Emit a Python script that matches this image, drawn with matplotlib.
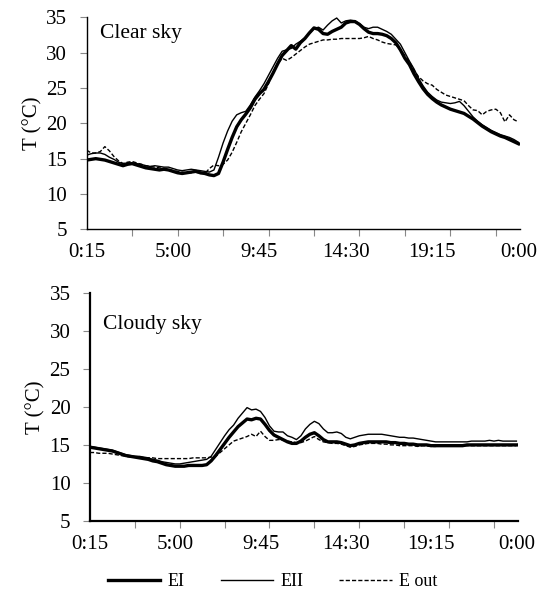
import numpy as np
import matplotlib
matplotlib.use('Agg')
import matplotlib.pyplot as plt

plt.rcParams['font.family'] = ['Liberation Serif', 'DejaVu Serif']

# tick labels (15-minute steps, one label every 19 steps)
tick_labels = ['0:15', '5:00', '9:45', '14:30', '19:15', '0:00']

# clear sky
clear_EI = [14.8, 14.9, 15.0, 14.9, 14.8, 14.6, 14.4, 14.2, 14.0, 14.2,
            14.3, 14.1, 13.9, 13.7, 13.6, 13.5, 13.4, 13.5, 13.4, 13.2,
            13.0, 12.9, 13.0, 13.1, 13.2, 13.0, 12.9, 12.7, 12.6, 12.9,
            14.5, 16.3, 18.0, 19.5, 20.5, 21.3, 22.2, 23.4, 24.2, 24.8,
            25.9, 27.1, 28.4, 29.6, 30.3, 31.0, 30.5, 31.4, 32.0, 32.8,
            33.5, 33.3, 32.7, 32.6, 33.0, 33.3, 33.6, 34.2, 34.4, 34.4,
            34.0, 33.4, 32.9, 32.7, 32.7, 32.6, 32.4, 32.0, 31.4, 30.4,
            29.2, 28.3, 27.0, 25.9, 24.9, 24.1, 23.5, 23.0, 22.6, 22.3,
            22.0, 21.8, 21.6, 21.4, 21.0, 20.6, 20.1, 19.6, 19.2, 18.8,
            18.5, 18.2, 18.0, 17.7, 17.4, 17.1]
clear_EII = [15.5, 15.7, 15.8, 15.8, 15.6, 15.2, 14.9, 14.5, 14.3, 14.4,
             14.4, 14.3, 14.2, 14.0, 13.9, 14.0, 13.9, 13.8, 13.8, 13.6,
             13.4, 13.3, 13.4, 13.5, 13.4, 13.3, 13.2, 13.1, 13.4, 15.2,
             17.2, 18.9, 20.3, 21.2, 21.5, 21.7, 22.6, 23.7, 24.6, 25.6,
             26.8, 28.0, 29.2, 30.2, 30.4, 30.6, 31.2, 31.6, 32.1, 32.7,
             33.4, 33.6, 33.2, 33.9, 34.5, 34.9, 34.2, 34.5, 34.6, 34.5,
             34.1, 33.6, 33.4, 33.6, 33.6, 33.3, 33.0, 32.6, 31.9, 31.2,
             30.0, 28.8, 27.7, 26.4, 25.3, 24.4, 23.8, 23.3, 23.0, 22.9,
             22.8, 22.9, 23.1, 22.5, 21.7, 20.9, 20.3, 19.8, 19.4, 19.0,
             18.7, 18.4, 18.2, 18.0, 17.7, 17.3]
clear_Eout = [16.2, 15.8, 15.8, 16.0, 16.7, 16.1, 15.3, 14.7, 14.3, 14.5,
              14.6, 14.4, 14.2, 14.0, 13.9, 13.8, 13.7, 13.6, 13.5, 13.3,
              13.2, 13.1, 13.0, 13.0, 13.1, 12.9, 12.9, 13.6, 14.1, 14.0,
              14.2, 14.8, 15.9, 17.3, 18.8, 20.0, 21.2, 22.5, 23.4, 24.2,
              25.6, 27.2, 28.4, 29.2, 28.9, 29.3, 29.8, 30.3, 30.8, 31.2,
              31.4, 31.6, 31.8, 31.8, 31.9, 31.9, 32.0, 32.0, 32.0, 32.0,
              32.0, 32.1, 32.3, 32.0, 31.8, 31.5, 31.3, 31.2, 31.1, 30.4,
              29.6, 28.7, 27.5, 26.6, 26.0, 25.6, 25.4, 24.8, 24.4, 24.0,
              23.8, 23.6, 23.4, 23.2, 22.5, 21.9, 21.8, 21.2, 21.7, 21.9,
              22.0, 21.5, 20.2, 21.2, 20.5, 20.2]

# cloudy sky
cloudy_EI = [14.7, 14.6, 14.5, 14.4, 14.3, 14.2, 14.0, 13.8, 13.6, 13.5,
             13.4, 13.3, 13.2, 13.1, 12.9, 12.8, 12.6, 12.4, 12.3, 12.2,
             12.2, 12.2, 12.3, 12.3, 12.3, 12.3, 12.4, 12.9, 13.6, 14.4,
             15.2, 16.0, 16.7, 17.4, 17.9, 18.4, 18.3, 18.5, 18.4, 17.7,
             16.9, 16.3, 16.0, 15.7, 15.4, 15.2, 15.2, 15.5, 16.0, 16.4,
             16.6, 16.2, 15.7, 15.4, 15.4, 15.4, 15.3, 15.1, 14.9, 15.0,
             15.2, 15.3, 15.4, 15.4, 15.4, 15.4, 15.4, 15.3, 15.3, 15.2,
             15.2, 15.1, 15.1, 15.0, 15.0, 15.0, 14.9, 14.9, 14.9, 14.9,
             14.9, 14.9, 14.9, 14.9, 15.0, 15.0, 15.0, 15.0, 15.0, 15.0,
             15.0, 15.0, 15.0, 15.0, 15.0, 15.0]
cloudy_EII = [14.8, 14.7, 14.6, 14.5, 14.4, 14.3, 14.1, 13.9, 13.7, 13.6,
              13.5, 13.5, 13.4, 13.3, 13.1, 13.0, 12.8, 12.7, 12.6, 12.5,
              12.5, 12.6, 12.7, 12.8, 12.9, 13.0, 13.1, 13.5, 14.4, 15.3,
              16.2, 17.0, 17.6, 18.5, 19.2, 19.9, 19.6, 19.7, 19.4, 18.6,
              17.5, 16.8, 16.7, 16.7, 16.2, 16.0, 15.7, 16.2, 17.1, 17.7,
              18.1, 17.8, 17.1, 16.6, 16.6, 16.7, 16.5, 16.0, 15.8, 16.0,
              16.2, 16.3, 16.4, 16.4, 16.4, 16.4, 16.3, 16.2, 16.1, 16.0,
              16.0, 15.9, 15.9, 15.8, 15.7, 15.6, 15.5, 15.4, 15.4, 15.4,
              15.4, 15.4, 15.4, 15.4, 15.4, 15.5, 15.5, 15.5, 15.5, 15.6,
              15.5, 15.6, 15.5, 15.5, 15.5, 15.5]
cloudy_Eout = [14.0, 14.0, 13.9, 13.9, 13.9, 13.8, 13.7, 13.6, 13.5, 13.4,
               13.4, 13.4, 13.3, 13.3, 13.3, 13.2, 13.2, 13.2, 13.2, 13.2,
               13.2, 13.2, 13.2, 13.3, 13.3, 13.3, 13.3, 13.4, 13.5, 14.0,
               14.5, 15.0, 15.5, 15.7, 15.9, 16.1, 16.4, 16.1, 16.8, 16.1,
               15.6, 15.6, 15.7, 15.6, 15.5, 15.4, 15.3, 15.3, 15.5, 15.8,
               16.1, 15.7, 15.4, 15.3, 15.2, 15.2, 15.1, 14.9, 14.7, 14.8,
               15.0, 15.1, 15.2, 15.2, 15.2, 15.1, 15.1, 15.0, 15.0, 14.9,
               14.9, 14.9, 14.9, 14.8, 14.9, 14.9, 14.8, 14.8, 14.9, 14.9,
               14.9, 14.9, 14.9, 14.9, 14.9, 14.9, 14.9, 14.9, 14.9, 14.9,
               14.9, 14.9, 14.9, 14.9, 14.9, 14.9]

slots = np.arange(len(clear_EI))  # one category per 15 minutes
label_pos = np.arange(0, len(slots), 19)
tick_pos = np.arange(0, len(slots), 10)


def draw_panel(ax, ei, eii, eout, title, title_y, spine_w):
    ax.plot(slots, eout, color='black', lw=1.0, ls=(0, (3, 1.5)), label='E out')
    ax.plot(slots, eii, color='black', lw=1.0, label='EII')
    ax.plot(slots, ei, color='black', lw=2.4, label='EI')
    ax.set_xlim(0, 95.3)
    ax.set_ylim(5, 35)
    ax.set_yticks(range(5, 36, 5))
    ax.set_xticks(label_pos, tick_labels)
    ax.set_xticks(tick_pos, minor=True)
    ax.tick_params(axis='x', which='major', length=0, pad=10, labelsize=15)
    ax.tick_params(axis='x', which='minor', length=5, width=0.8, color='#888888')
    ax.tick_params(axis='y', length=5, width=0.8, color='#888888', labelsize=15, pad=9)
    for s in ['top', 'right']:
        ax.spines[s].set_visible(False)
    for s in ['left', 'bottom']:
        ax.spines[s].set_linewidth(spine_w)
    ax.set_ylabel('T (°C)', fontsize=15, labelpad=3)
    ax.text(0.031, title_y, title, transform=ax.transAxes, fontsize=15.5,
            va='baseline', ha='left')


fig = plt.figure(figsize=(5.45, 5.93), dpi=100)
ax1 = fig.add_axes([0.159, 0.6133, 0.795, 0.3575])
ax2 = fig.add_axes([0.165, 0.1214, 0.785, 0.385])

draw_panel(ax1, clear_EI, clear_EII, clear_Eout, 'Clear sky', 0.902, 1.0)
draw_panel(ax2, cloudy_EI, cloudy_EII, cloudy_Eout, 'Cloudy sky', 0.841, 1.6)

h, l = ax2.get_legend_handles_labels()
fig.legend(h[::-1], l[::-1], ncol=3, loc='center', bbox_to_anchor=(0.5, 0.019),
           frameon=False, fontsize=13, handlelength=2.9, handletextpad=0.4,
           columnspacing=2.0)

fig.savefig('out.png', dpi=100)
